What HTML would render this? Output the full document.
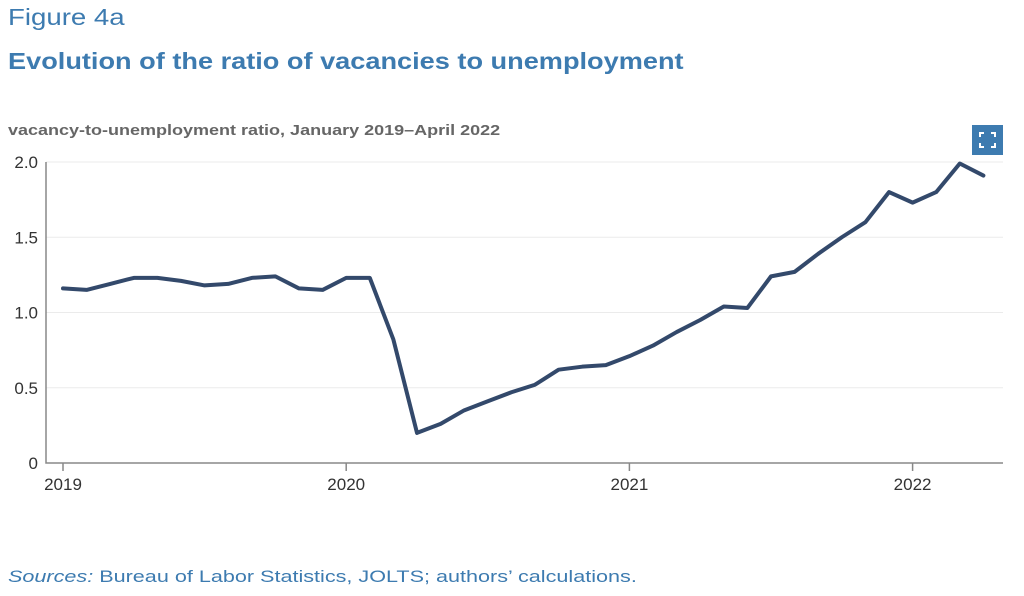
<!DOCTYPE html>
<html><head><meta charset="utf-8"><style>
body{margin:0;background:#fff;width:1024px;height:596px;overflow:hidden;font-family:"Liberation Sans",sans-serif;}
.t{position:absolute;white-space:nowrap;transform-origin:0 0}
</style></head><body>
<div class="t" style="left:8px;top:4px;font-size:23px;color:#3d7bb0;transform:scaleX(1.2);">Figure 4a</div>
<div class="t" style="left:8px;top:48px;font-size:23px;font-weight:bold;color:#3d7bb0;transform:scaleX(1.18);">Evolution of the ratio of vacancies to unemployment</div>
<div class="t" style="left:8px;top:122px;font-size:15px;font-weight:bold;color:#666;transform:scaleX(1.2);">vacancy-to-unemployment ratio, January 2019–April 2022</div>
<div style="position:absolute;left:972px;top:125px;width:31px;height:30px;background:#3d7bb0;">
<svg width="31" height="30"><path d="M8 12V8h4M19 8h4v4M23 18v4h-4M12 22H8v-4" stroke="#fff" stroke-width="2" fill="none"/></svg></div>
<svg id="c" width="1024" height="596" style="position:absolute;left:0;top:0"></svg>
<div class="t" style="left:8px;top:567px;font-size:17px;color:#3d7bb0;transform:scaleX(1.27);"><i>Sources:</i> Bureau of Labor Statistics, JOLTS; authors’ calculations.</div>
<script>
const yTicks=[0,0.5,1.0,1.5,2.0];
const yTickLabels=["0","0.5","1.0","1.5","2.0"];
const xYears=[2019,2020,2021,2022];
const values=[1.16,1.15,1.19,1.23,1.23,1.21,1.18,1.19,1.23,1.24,1.16,1.15,
1.23,1.23,0.82,0.20,0.26,0.35,0.41,0.47,0.52,0.62,0.64,0.65,
0.71,0.78,0.87,0.95,1.04,1.03,1.24,1.27,1.39,1.50,1.60,1.80,
1.73,1.80,1.99,1.91];
const svg=document.getElementById('c');const NS='http://www.w3.org/2000/svg';
const x=m=>63+m*23.6;const y=v=>463-v*150.5;
function mk(t,a){const e=document.createElementNS(NS,t);for(const k in a)e.setAttribute(k,a[k]);svg.appendChild(e);return e;}
yTicks.forEach((v,i)=>{
 if(v>0){const g=mk('line',{x1:46,x2:1003,y1:y(v),y2:y(v),stroke:'#ebebeb','stroke-width':1});
 
 }
 const t=mk('text',{x:38,y:y(v)+6,'text-anchor':'end','font-size':17,fill:'#333','font-family':'Liberation Sans, sans-serif'});
 t.textContent=yTickLabels[i];
 
 
});
const ax=mk('path',{d:'M46 162V463H1003',stroke:'#888','stroke-width':1.5,fill:'none'});


xYears.forEach((yr,i)=>{
 const xx=x(i*12);
 const tk=mk('line',{x1:xx,x2:xx,y1:463,y2:471,stroke:'#888','stroke-width':1.5});
 
 
 const t=mk('text',{x:xx,y:490,'text-anchor':'middle','font-size':17,fill:'#333','font-family':'Liberation Sans, sans-serif'});
 t.textContent=yr;
 
 
});
const p=mk('polyline',{points:values.map((v,i)=>x(i)+','+y(v)).join(' '),fill:'none',stroke:'#33496b','stroke-width':4,'stroke-linejoin':'round','stroke-linecap':'round'});


</script>
</body></html>
